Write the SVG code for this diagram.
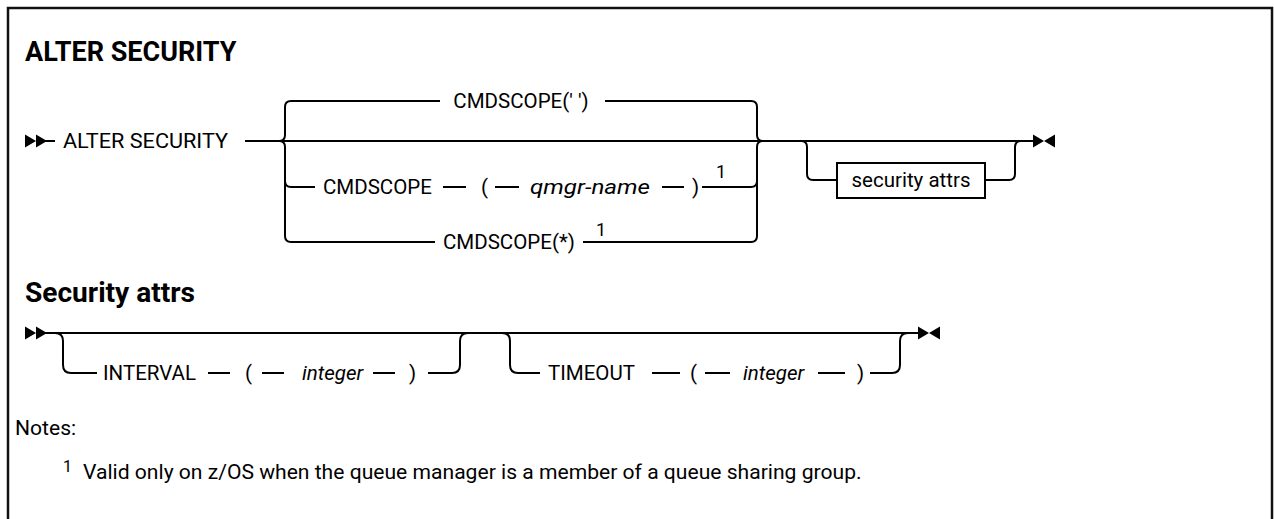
<svg xmlns="http://www.w3.org/2000/svg" width="1274" height="519" viewBox="0 0 1274 519">
<style>
.t{font-family:Roboto,"Liberation Sans",sans-serif;font-size:20.5px;fill:#000}
.i{font-style:italic}
.h{font-family:Roboto,"Liberation Sans",sans-serif;font-size:27px;font-weight:bold;fill:#000}
.sup{font-family:Roboto,"Liberation Sans",sans-serif;font-size:18px;fill:#000}
.n{font-family:Roboto,"Liberation Sans",sans-serif;font-size:21.1px;fill:#000}
.ns{font-family:Roboto,"Liberation Sans",sans-serif;font-size:16px;fill:#000}
.c path,.c line{fill:none;stroke:#000;stroke-width:2}
.box{fill:#fff;stroke:#000;stroke-width:2}
.mk{fill:#000}
</style>
<defs>
<path id="start" d="M0 -6.5 L11 0 L0 6.5 Z M11 -6.5 L22 0 L11 6.5 Z"/>
<path id="end" d="M0 -6.5 L11 0 L0 6.5 Z M22 -6.5 L11 0 L22 6.5 Z"/>
</defs>
<rect x="8" y="8" width="1264" height="540" fill="#fff" stroke="#111" stroke-width="2.5"/>

<text class="h" x="25" y="61">ALTER SECURITY</text>
<text class="h" x="25" y="302" textLength="170" lengthAdjust="spacingAndGlyphs">Security attrs</text>

<g id="connectors" class="c">
<line x1="45" y1="141" x2="55" y2="141"/>
<line x1="245" y1="141" x2="1034" y2="141"/>
<path d="M279 141 q6 0 6 -6 V107 q0 -6 6 -6 H440"/>
<path d="M605 101 H751 q6 0 6 6 V135 q0 6 6 6"/>
<path d="M279 141 q6 0 6 6 V236 q0 6 6 6 H435"/>
<path d="M285 181 q0 6 6 6 H315"/>
<line x1="443" y1="187" x2="466" y2="187"/>
<line x1="495" y1="187" x2="519" y2="187"/>
<line x1="662" y1="187" x2="684" y2="187"/>
<path d="M702 187 H751 q6 0 6 -6"/>
<path d="M583 242 H751 q6 0 6 -6 V147 q0 -6 6 -6"/>
<path d="M801 141 q6 0 6 6 V174 q0 6 6 6 H837"/>
<path d="M985 180 H1009 q6 0 6 -6 V147 q0 -6 6 -6"/>

<line x1="45" y1="333" x2="919" y2="333"/>
<path d="M55 333 q8 0 8 8 V365 q0 8 8 8 H97"/>
<line x1="208" y1="373" x2="230" y2="373"/>
<line x1="262" y1="373" x2="284" y2="373"/>
<line x1="373" y1="373" x2="395" y2="373"/>
<path d="M428 373 H452 q8 0 8 -8 V341 q0 -8 8 -8"/>
<path d="M502 333 q8 0 8 8 V365 q0 8 8 8 H540"/>
<line x1="652" y1="373" x2="680" y2="373"/>
<line x1="705" y1="373" x2="730" y2="373"/>
<line x1="818" y1="373" x2="845" y2="373"/>
<path d="M870 373 H892 q8 0 8 -8 V341 q0 -8 8 -8"/>
</g>

<g id="start1"><use href="#start" class="mk" x="25" y="141"/></g>
<g id="end1"><use href="#end" class="mk" x="1033" y="141"/></g>
<g id="start2"><use href="#start" class="mk" x="25" y="333"/></g>
<g id="end2"><use href="#end" class="mk" x="918" y="333"/></g>

<g id="n-alter"><text class="t" x="63" y="148" textLength="165" lengthAdjust="spacingAndGlyphs">ALTER SECURITY</text></g>
<g id="n-cmd-default"><text class="t" x="521" y="108" text-anchor="middle">CMDSCOPE(' ')</text></g>
<g id="n-cmd-qmgr">
<text class="t" x="323" y="194">CMDSCOPE</text>
<text class="t" x="481" y="194">(</text>
<text class="t i" x="530" y="194" textLength="120" lengthAdjust="spacingAndGlyphs">qmgr-name</text>
<text class="t" x="692" y="194">)</text>
<text class="sup" x="716" y="178">1</text>
</g>
<g id="n-cmd-star">
<text class="t" x="443" y="249">CMDSCOPE(*)</text>
<text class="sup" x="596" y="236">1</text>
</g>
<g id="n-secattrs">
<rect class="box" x="837" y="163" width="148" height="35"/>
<text class="t" x="911" y="187" text-anchor="middle">security attrs</text>
</g>
<g id="n-interval">
<text class="t" x="103" y="380">INTERVAL</text>
<text class="t" x="245" y="380">(</text>
<text class="t i" x="302" y="380">integer</text>
<text class="t" x="409" y="380">)</text>
</g>
<g id="n-timeout">
<text class="t" x="548" y="380">TIMEOUT</text>
<text class="t" x="690" y="380">(</text>
<text class="t i" x="743" y="380">integer</text>
<text class="t" x="857" y="380">)</text>
</g>

<g id="notes">
<text class="n" x="15" y="435">Notes:</text>
<text class="ns" x="63" y="472">1</text>
<text class="n" x="83" y="479">Valid only on z/OS when the queue manager is a member of a queue sharing group.</text>
</g>
</svg>
